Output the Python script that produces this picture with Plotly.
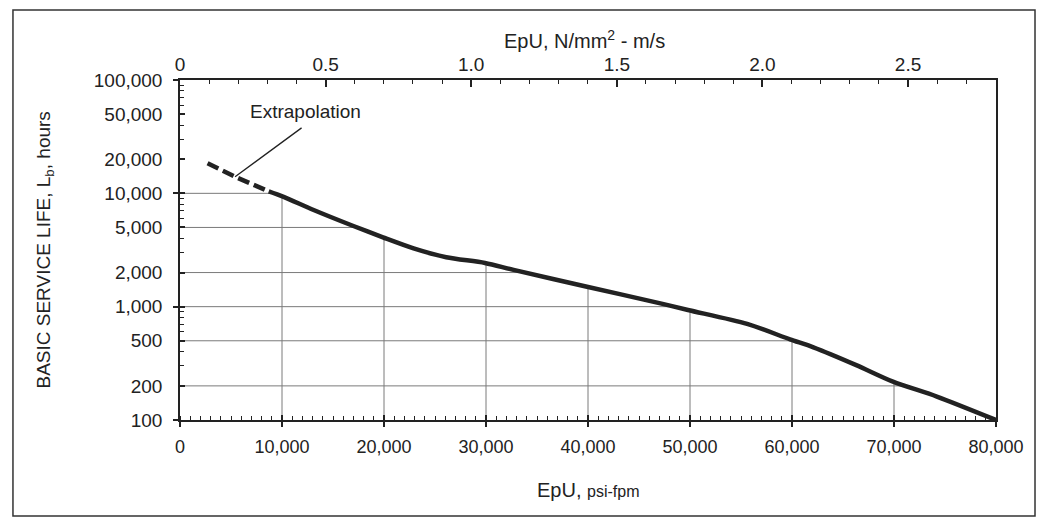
import numpy as np
import plotly.graph_objects as go

# EpU (psi-fpm) vs basic service life (hours)
DASH_X = [2700, 5400, 8700]
DASH_Y = [18400, 14000, 10400]
SOLID_X = [8700, 10100, 13100, 17000, 19900, 22900, 26100, 29900, 32700,
           39900, 47100, 49800, 55600, 59800, 62100, 66300, 69900, 74200, 80000]
SOLID_Y = [10400, 9350, 7130, 5150, 4090, 3270, 2730, 2430, 2110,
           1500, 1070, 935, 705, 515, 438, 305, 218, 161, 100]

X_TICKS = [0, 10000, 20000, 30000, 40000, 50000, 60000, 70000, 80000]
Y_TICKS = [100, 200, 500, 1000, 2000, 5000, 10000, 20000, 50000, 100000]
Y_DECADES = [100, 1000, 10000, 100000]
TOP_TICKS = [0, 0.5, 1.0, 1.5, 2.0, 2.5]
TOP_LABELS = ["0", "0.5", "1.0", "1.5", "2.0", "2.5"]
GRID_X = [10000, 20000, 30000, 40000, 50000, 60000, 70000]
GRID_Y = [200, 500, 1000, 2000, 5000, 10000]

CONV = 0.00689476 * 0.00508  # psi-fpm -> N/mm^2 - m/s
FONT = "Liberation Sans, Arial, sans-serif"
INK = "#222"

# curve in log space, used to clip the grid under the line
cx = np.array(DASH_X[:-1] + SOLID_X, dtype=float)
cy = np.log10(np.array(DASH_Y[:-1] + SOLID_Y, dtype=float))

fig = go.Figure()

# grid only below the curve
for gx in GRID_X:
    top = 10 ** np.interp(gx, cx, cy)
    fig.add_trace(go.Scatter(x=[gx, gx], y=[100, top], mode="lines",
                             line=dict(color="#7a7a7a", width=1),
                             hoverinfo="skip", showlegend=False))
for gy in GRID_Y:
    right = np.interp(np.log10(gy), cy[::-1], cx[::-1])
    fig.add_trace(go.Scatter(x=[0, right], y=[gy, gy], mode="lines",
                             line=dict(color="#7a7a7a", width=1),
                             hoverinfo="skip", showlegend=False))

fig.add_trace(go.Scatter(x=DASH_X, y=DASH_Y, mode="lines",
                         line=dict(color=INK, width=4.5, dash="12px,5px"),
                         showlegend=False))
fig.add_trace(go.Scatter(x=SOLID_X, y=SOLID_Y, mode="lines",
                         line=dict(color=INK, width=4.5, shape="spline", smoothing=0.8),
                         showlegend=False))

# invisible traces so the extra axes get drawn
fig.add_trace(go.Scatter(x=[0], y=[100], xaxis="x2", yaxis="y",
                         mode="markers", opacity=0, hoverinfo="skip", showlegend=False))
fig.add_trace(go.Scatter(x=[0], y=[100], xaxis="x3", yaxis="y3",
                         mode="markers", opacity=0, hoverinfo="skip", showlegend=False))

tickfont = dict(family=FONT, size=19, color=INK)

fig.update_layout(
    width=1039, height=512,
    margin=dict(l=172, r=51, t=72, b=100),
    paper_bgcolor="white", plot_bgcolor="white",
    font=dict(family=FONT, color=INK),
    xaxis=dict(
        range=[0, 80000], tickvals=X_TICKS,
        ticktext=[f"{v:,}" for v in X_TICKS],
        ticks="outside", ticklen=5, tickwidth=1.5, tickcolor=INK,
        minor=dict(ticks="inside", dtick=1000, ticklen=4, tickwidth=1.2, tickcolor=INK),
        showline=True, linecolor=INK, linewidth=1.5,
        showgrid=False, zeroline=False,
        tickfont=dict(family=FONT, size=18, color=INK),
        ticklabelstandoff=5,
    ),
    xaxis2=dict(
        overlaying="x", side="top", anchor="y",
        range=[0, 80000 * CONV], tickvals=TOP_TICKS, ticktext=TOP_LABELS,
        ticks="inside", ticklen=7, tickwidth=1.5, tickcolor=INK,
        minor=dict(ticks="inside", dtick=0.1, ticklen=4, tickwidth=1.2, tickcolor=INK),
        showline=True, linecolor=INK, linewidth=1.5,
        showgrid=False, zeroline=False, tickfont=tickfont,
        ticklabelstandoff=0,
    ),
    xaxis3=dict(
        overlaying="x", anchor="y3", range=[0, 80000], tickvals=X_TICKS,
        ticks="inside", ticklen=5, tickwidth=1.5, tickcolor=INK,
        showticklabels=False, showline=False, showgrid=False, zeroline=False,
    ),
    yaxis=dict(
        type="log", range=[2, 5], tickvals=Y_TICKS,
        ticktext=[f"{v:,}" for v in Y_TICKS],
        ticks="inside", ticklen=5, tickwidth=1.5, tickcolor=INK,
        minor=dict(ticks="inside", dtick="D1", ticklen=4, tickwidth=1.2, tickcolor=INK),
        showline=True, linecolor=INK, linewidth=1.5, mirror=True,
        showgrid=False, zeroline=False, tickfont=tickfont,
        ticklabelstandoff=12,
    ),
    yaxis3=dict(
        overlaying="y", type="log", range=[2, 5], tickvals=Y_DECADES,
        ticks="outside", ticklen=6, tickwidth=1.5, tickcolor=INK,
        showticklabels=False, showline=False, showgrid=False, zeroline=False,
    ),
    shapes=[dict(type="rect", xref="paper", yref="paper",
                 x0=-0.2047, x1=1.0478, y0=-0.282, y1=1.206,
                 line=dict(color="#333", width=1.5), layer="below")],
    annotations=[
        dict(text="BASIC SERVICE LIFE, L<sub>b</sub>, hours", textangle=-90,
             xref="paper", yref="paper", x=-0.166, y=0.5,
             xanchor="center", yanchor="middle",
             showarrow=False, font=dict(size=19)),
        dict(text="EpU, N/mm<sup>2</sup> - m/s", xref="paper", yref="paper",
             x=0.496, y=1.118, xanchor="center", yanchor="middle",
             showarrow=False, font=dict(size=20)),
        dict(text="EpU, <span style='font-size:16px'>psi-fpm</span>",
             xref="paper", yref="paper", x=0.5, y=-0.206,
             xanchor="center", yanchor="middle",
             showarrow=False, font=dict(size=20)),
        # leader line from the label to the extrapolated part of the curve
        dict(text="", x=DASH_X[1], y=np.log10(DASH_Y[1]),
             xref="x", yref="y", ax=68, ay=-50, showarrow=True,
             arrowhead=0, arrowwidth=1.3, arrowcolor=INK),
        dict(text="Extrapolation", x=DASH_X[1], y=np.log10(DASH_Y[1]),
             xref="x", yref="y", xshift=70, yshift=65, showarrow=False,
             xanchor="center", yanchor="middle", font=dict(size=19)),
    ],
)

fig.write_html("out.html")
